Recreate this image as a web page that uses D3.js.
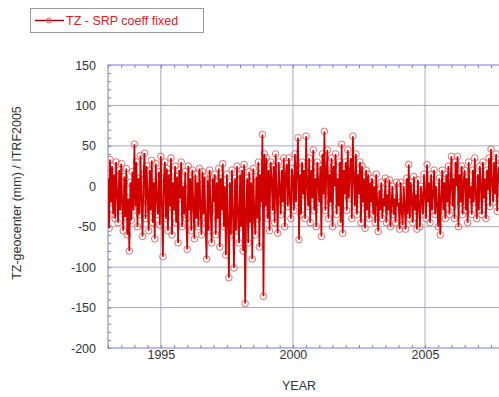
<!DOCTYPE html>
<html><head><meta charset="utf-8">
<script src="https://cdn.jsdelivr.net/npm/d3@7"></script>
<style>body{margin:0;background:#fff;overflow:hidden}svg{display:block}text{font-family:"Liberation Sans",Arial,sans-serif}</style>
</head><body><svg id="c" width="499" height="397"></svg>
<script>
const seriesName = "TZ - SRP coeff fixed";
const startYear = 1993.0;
const stepYears = 1 / 26;
const v1993 = [10,-52,33,-20,25,-35,15,-40,30,-10,-45,20,-30,28,-25,-55,12,-38,22,-60,-15,-80,5,-42,18,-30];
const v1994 = [52,-25,30,-50,10,-35,38,-20,-62,15,41,-40,25,-10,-55,20,-30,32,-45,5,-65,28,-15,-35,18,-48];
const v1995 = [37,-20,-87,10,30,-40,22,-55,15,-25,35,-60,5,-30,25,-45,12,-70,20,-15,30,-50,0,-35,18,-40];
const v1996 = [-78,25,-30,10,-55,20,-20,-65,15,-40,5,-50,22,-25,-60,18,-35,12,-45,-90,8,-55,20,-30,-70,10];
const v1997 = [-20,15,-60,5,-40,22,-75,10,-30,28,-50,0,-85,15,-45,-113,5,-60,20,-35,-101,10,-55,25,-40,-70];
const v1998 = [15,-50,20,-80,27,-145,-30,10,-70,18,-45,5,-90,22,-35,-60,12,-40,30,-75,15,-20,64,-136,40,-25];
const v1999 = [35,-40,20,-55,30,10,-30,25,-45,40,-10,-58,30,0,-35,20,-20,35,-50,15,28,-25,35,-15,-40,22];
const v2000 = [10,-30,40,-20,25,60,-66,15,-35,30,-10,20,-40,62,0,-25,35,-45,20,-15,45,-30,10,-50,30,5];
const v2001 = [-20,25,-62,40,-10,68,-30,20,45,-40,15,-20,35,-50,25,0,40,-35,10,-25,30,-45,52,-58,20,-10];
const v2002 = [30,-30,45,-15,20,35,-40,62,10,-25,40,-35,15,-10,30,-45,25,-20,10,-52,20,-30,15,-40,5,-20];
const v2003 = [10,-35,0,-45,15,-20,-56,-5,-30,5,-40,-15,-25,10,-45,-10,-30,8,-50,-20,0,-35,-15,-45,5,-25];
const v2004 = [-20,-53,5,-30,-48,0,-25,-53,10,-35,27,-40,5,-20,-45,12,-30,-10,-53,8,-25,-50,0,-15,-35,15];
const v2005 = [-10,-40,27,-20,5,-45,15,-30,-10,20,-35,0,-25,-50,10,-60,-15,20,-30,5,-40,15,-20,25,-35,0];
const v2006 = [37,-25,10,-40,30,0,37,-50,15,-20,25,-35,5,20,-30,10,-45,30,-15,0,-35,20,-20,35,-10,-40];
const v2007 = [15,-30,25,0,-35,30,-15,10,-40,20,-5,35,-25,46,5,-20,30,-10,40,-31,15,25,-15,30,-5,20];
const yTicks = [-200,-150,-100,-50,0,50,100,150];
const xTicks = [1995,2000,2005];

const values = [].concat(v1993,v1994,v1995,v1996,v1997,v1998,v1999,v2000,v2001,v2002,v2003,v2004,v2005,v2006,v2007);
const data = values.map((v,i)=>({t:startYear+i*stepYears, v}));

const svg = d3.select("#c");
const x = d3.scaleLinear().domain([1993,2005]).range([108,425]);
const y = d3.scaleLinear().domain([-200,150]).range([348,65]);
const xEnd = 2008.6;
const frameCol = "#7a7ad0", gridCol = "#a8a8c4";
const font = "Liberation Sans, Arial, sans-serif";

// grid
svg.append("g").selectAll("line").data(yTicks.filter(d=>d>-200&&d<150)).join("line")
  .attr("x1",x(1993)).attr("x2",x(xEnd)).attr("y1",d=>y(d)).attr("y2",d=>y(d))
  .attr("stroke",gridCol).attr("stroke-width",1);
svg.append("g").selectAll("line").data(xTicks).join("line")
  .attr("x1",d=>x(d)).attr("x2",d=>x(d)).attr("y1",y(150)).attr("y2",y(-200))
  .attr("stroke",gridCol).attr("stroke-width",1);

// minor ticks
const xMinor = d3.range(1993,xEnd,0.5);
svg.append("g").attr("transform",`translate(0,${y(-200)})`)
  .call(d3.axisBottom(x).tickValues(xMinor).tickSize(-3).tickFormat(""))
  .call(g=>g.selectAll("line").attr("stroke",frameCol)).call(g=>g.select(".domain").remove());
svg.append("g").attr("transform",`translate(0,${y(150)})`)
  .call(d3.axisTop(x).tickValues(xMinor).tickSize(-3).tickFormat(""))
  .call(g=>g.selectAll("line").attr("stroke",frameCol)).call(g=>g.select(".domain").remove());
svg.append("g").attr("transform",`translate(${x(1993)},0)`)
  .call(d3.axisLeft(y).tickValues(d3.range(-200,151,10)).tickSize(-3).tickFormat(""))
  .call(g=>g.selectAll("line").attr("stroke",frameCol)).call(g=>g.select(".domain").remove());

// frame
svg.append("rect").attr("x",x(1993)).attr("y",y(150)).attr("width",x(xEnd)-x(1993)).attr("height",y(-200)-y(150))
  .attr("fill","none").attr("stroke",frameCol).attr("stroke-width",1);

// labels
svg.append("g").attr("transform",`translate(${x(1993)-12},0)`)
  .call(d3.axisLeft(y).tickValues(yTicks).tickFormat(d=>String(d)).tickSize(0).tickPadding(0))
  .call(g=>g.select(".domain").remove())
  .call(g=>g.selectAll("text").attr("font-size",12.5).attr("fill","#333").attr("font-family",font));
svg.append("g").attr("transform",`translate(0,${y(-200)+2})`)
  .call(d3.axisBottom(x).tickValues(xTicks).tickFormat(d3.format("d")).tickSize(0).tickPadding(0))
  .call(g=>g.select(".domain").remove())
  .call(g=>g.selectAll("text").attr("font-size",12.5).attr("fill","#333").attr("font-family",font));

svg.append("text").attr("x",299).attr("y",390).attr("text-anchor","middle").attr("font-size",12.5).attr("fill","#333").text("YEAR");
svg.append("text").attr("transform",`translate(21,193) rotate(-90)`).attr("text-anchor","middle").attr("font-size",12.5).attr("fill","#333").text("TZ-geocenter (mm) / ITRF2005");

// data
svg.append("clipPath").attr("id","pc").append("rect")
  .attr("x",x(1993)).attr("y",y(150)).attr("width",x(xEnd)-x(1993)).attr("height",y(-200)-y(150));
const pg = svg.append("g").attr("clip-path","url(#pc)");
pg.append("g").selectAll("circle").data(data).join("circle")
  .attr("cx",d=>x(d.t)).attr("cy",d=>y(d.v)).attr("r",3.3)
  .attr("fill","none").attr("stroke","#ec6a6a").attr("stroke-width",1);
pg.append("path").datum(data)
  .attr("d",d3.line().x(d=>x(d.t)).y(d=>y(d.v)))
  .attr("fill","none").attr("stroke","#d00000").attr("stroke-width",1.7);

// legend
const lg = svg.append("g");
lg.append("rect").attr("x",30.5).attr("y",8.5).attr("width",173).attr("height",24).attr("fill","#fff").attr("stroke","#9a9a9a");
lg.append("line").attr("x1",35).attr("x2",64).attr("y1",20.5).attr("y2",20.5).attr("stroke","#a00000").attr("stroke-width",1.5);
lg.append("circle").attr("cx",49).attr("cy",20.5).attr("r",2.5).attr("fill","none").attr("stroke","#e06060");
lg.append("text").attr("x",66).attr("y",25).attr("font-size",12.5).attr("fill","#e02020").text(seriesName);
</script></body></html>
